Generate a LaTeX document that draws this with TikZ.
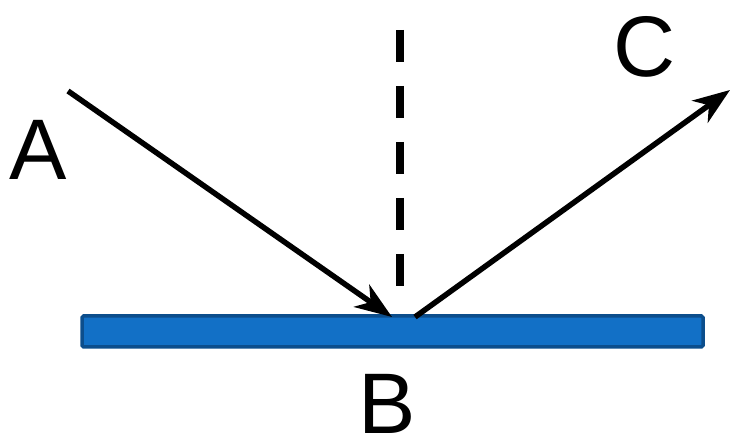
\documentclass[tikz,border=0pt]{standalone}
\usepackage{fontspec}
\setmainfont{Liberation Sans}
\usepackage{xcolor}
\usetikzlibrary{arrows.meta}

\definecolor{mirrorfill}{HTML}{1270C6}
\definecolor{mirrordraw}{HTML}{0C4E8C}

\begin{document}
\begin{tikzpicture}[x=1pt, y=-1pt,
    ray/.style={line width=5.5pt, -{Stealth[length=37pt, width=27pt, inset=11pt]}},
    letter/.style={anchor=base, inner sep=0pt, font=\fontsize{86}{90}\selectfont}]
    % Fix the frame
    \useasboundingbox (0,0) rectangle (732,438);

    % Define points
    \coordinate (A0) at (68,91);
    \coordinate (Bin) at (392,317);
    \coordinate (Bout) at (415,317);
    \coordinate (C0) at (730,90);
    \coordinate (N1) at (400,30);
    \coordinate (N2) at (400,290);

    % Draw the mirror
    \draw[mirrordraw, fill=mirrorfill, line width=3.5pt, rounded corners=1.5pt] (82,316) rectangle (703,347);

    % Draw the normal
    \draw[line width=7.5pt, dash pattern=on 32pt off 24pt] (N1) -- (N2);

    % Draw the rays
    \draw[ray] (A0) -- (Bin);
    \draw[ray] (Bout) -- (C0);

    % Labels
    \node[letter] (labA) at (38,180) {A};
    \node[letter] (labB) at (387,434) {B};
    \node[letter] (labC) at (645,77) {C};
\end{tikzpicture}
\end{document}
